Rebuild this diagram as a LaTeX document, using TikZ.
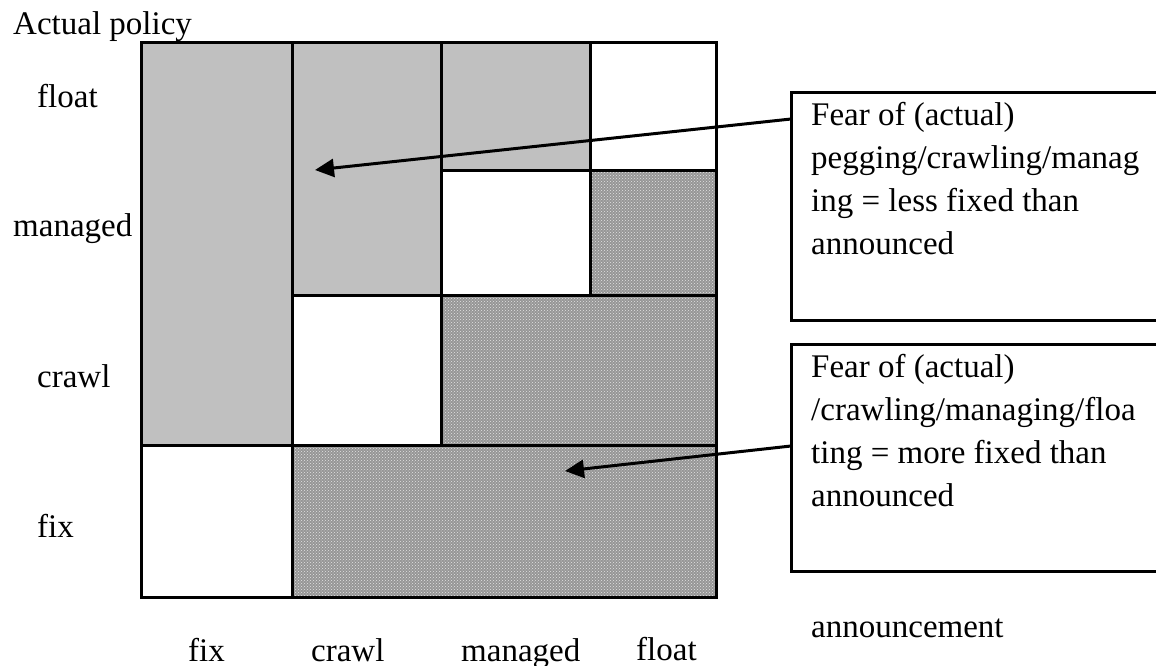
\documentclass[tikz,border=0pt]{standalone}
\usepackage{fontspec}
\setmainfont{Liberation Serif}
\usetikzlibrary{arrows.meta,patterns}
\definecolor{lgray}{RGB}{192,192,192}
\definecolor{pgray}{RGB}{150,150,150}
\definecolor{pdot}{RGB}{228,228,228}
\begin{document}
\begin{tikzpicture}[x=1pt,y=-1pt,
  graycell/.style={fill=lgray},
  dotcell/.style={fill=pgray, postaction={pattern=crosshatch dots, pattern color=pdot}},
  gridline/.style={line width=3pt},
  lbl/.style={anchor=base west, inner sep=0pt, font=\fontsize{33}{43}\selectfont},
  callout/.style={draw, line width=3pt, outer sep=0pt, inner sep=0pt, anchor=north west,
                  minimum width=380pt, minimum height=227pt},
  arr/.style={line width=3pt, -{Triangle[length=19pt,width=18pt]}}]
\useasboundingbox (0,0) rectangle (1156,666);
\clip (0,0) rectangle (1156,666);
% cells
\fill[graycell] (141,43) rectangle (292,445);
\fill[graycell] (292,43) rectangle (441,295);
\fill[graycell] (441,43) rectangle (590,170);
\fill[dotcell] (590,170) rectangle (716,295);
\fill[dotcell] (441,295) rectangle (716,445);
\fill[dotcell] (292,445) rectangle (716,597);
% grid lines
\draw[gridline] (141,43) rectangle (716,597);
\draw[gridline] (292,43) -- (292,597);
\draw[gridline] (441,43) -- (441,445);
\draw[gridline] (590,43) -- (590,295);
\draw[gridline] (441,170) -- (716,170);
\draw[gridline] (292,295) -- (716,295);
\draw[gridline] (141,445) -- (716,445);
% axis labels
\node[lbl] (ap) at (13,35) {Actual policy};
\node[lbl] (yfloat) at (37,108) {float};
\node[lbl] (ymanaged) at (13,236) {managed};
\node[lbl] (ycrawl) at (37,387) {crawl};
\node[lbl] (yfix) at (37,537) {fix};
\node[lbl] (xfix) at (188,661) {fix};
\node[lbl] (xcrawl) at (311,661) {crawl};
\node[lbl] (xmanaged) at (461,661) {managed};
\node[lbl] (xfloat) at (636,660) {float};
\node[lbl] (ann) at (811,637) {announcement};
% callout boxes
\node[callout] (b1) at (791,93) {};
\node[callout] (b2) at (791,344) {};
\node[lbl, anchor=north west, align=left] (t1) at (811,102)
  {Fear of (actual)\\pegging/crawling/manag\\ing = less fixed than\\announced};
\node[lbl, anchor=north west, align=left] (t2) at (811,354)
  {Fear of (actual)\\/crawling/managing/floa\\ting = more fixed than\\announced};
% arrows
\coordinate (p1) at (315,170);
\coordinate (p2) at (565,471);
\draw[arr] ([yshift=-26pt]b1.north west) -- (p1);
\draw[arr] ([yshift=-102pt]b2.north west) -- (p2);
\end{tikzpicture}
\end{document}
